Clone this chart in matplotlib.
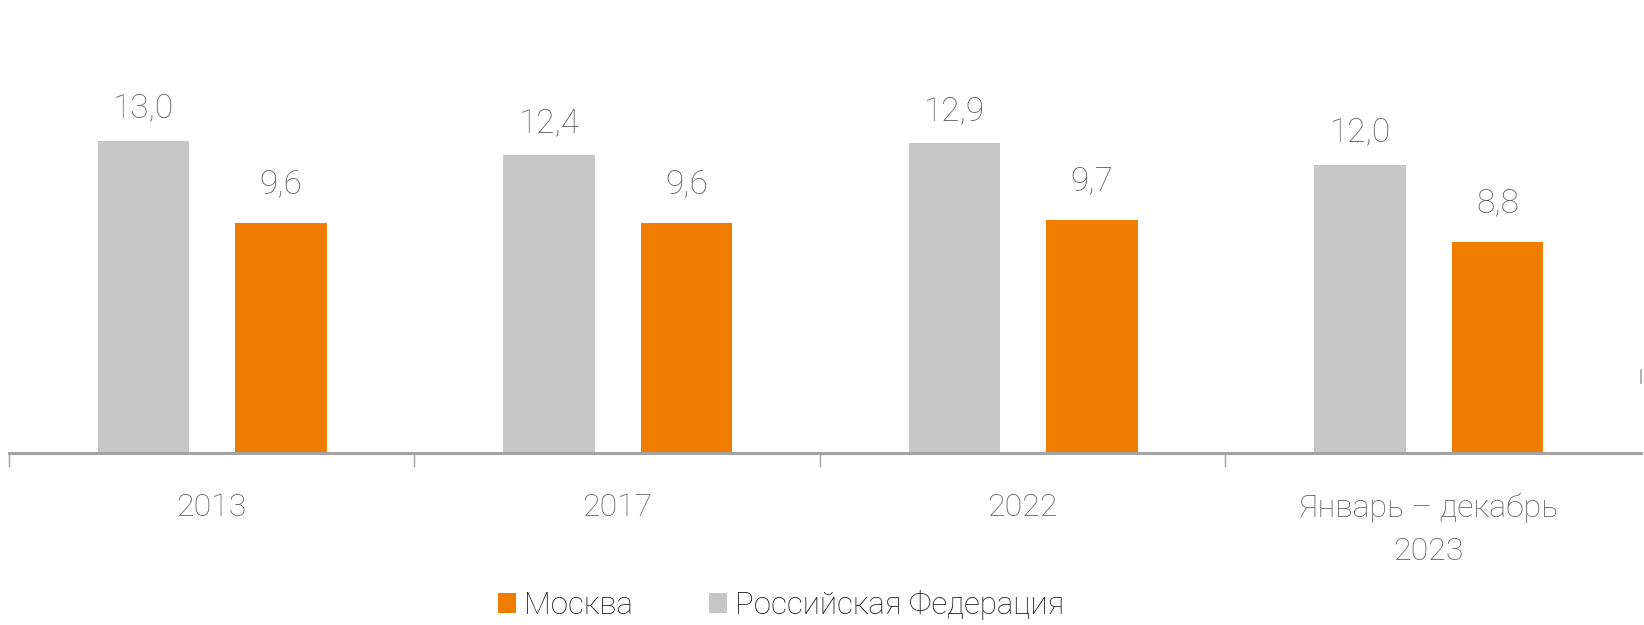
import matplotlib
matplotlib.use("Agg")
import matplotlib.pyplot as plt
from matplotlib.patches import Patch
import numpy as np

categories = ["2013", "2017", "2022", "Январь – декабрь\n2023"]
russia = [13.0, 12.4, 12.9, 12.0]
moscow = [9.6, 9.6, 9.7, 8.8]
value_labels_russia = ["13,0", "12,4", "12,9", "12,0"]
value_labels_moscow = ["9,6", "9,6", "9,7", "8,8"]
series_names = ["Москва", "Российская Федерация"]

GRAY = "#c6c6c6"
ORANGE = "#f07d00"
AXIS = "#a3a3a3"
LABEL = "#606060"

plt.rcParams["font.family"] = ["Roboto", "DejaVu Sans"]
plt.rcParams["font.weight"] = "light"

W, H = 1644, 625
fig = plt.figure(figsize=(W / 100, H / 100), dpi=100)
ax = fig.add_axes([9 / W, 172 / H, (1641 - 9) / W, (453 - 21) / H])

x = np.arange(len(categories))
bw = 0.225
off_r, off_m = -0.168, 0.171
ax.bar(x + off_r, russia, width=bw, color=GRAY, zorder=1)
ax.bar(x + off_m, moscow, width=bw, color=ORANGE, zorder=1)

for xi, v, t in zip(x, russia, value_labels_russia):
    ax.annotate(t, (xi + off_r, v), xytext=(0, 17), textcoords="offset points",
                ha="center", va="baseline", fontsize=24, color=LABEL, fontweight="light")
for xi, v, t in zip(x, moscow, value_labels_moscow):
    ax.annotate(t, (xi + off_m, v), xytext=(0, 21.5), textcoords="offset points",
                ha="center", va="baseline", fontsize=24, color=LABEL, fontweight="light")

ax.set_xlim(-0.5, 3.525)
ax.set_ylim(0, 18)

for s in ["top", "left"]:
    ax.spines[s].set_visible(False)
ax.spines["bottom"].set_color(AXIS)
ax.spines["bottom"].set_linewidth(2.2)
ax.spines["bottom"].set_zorder(3)
ax.spines["right"].set_color(AXIS)
ax.spines["right"].set_linewidth(1.2)
ax.spines["right"].set_bounds(2.92, 3.46)

ax.set_yticks([])
ax.set_xticks([-0.5, 0.5, 1.5, 2.5])
ax.set_xticklabels([])
ax.tick_params(axis="x", which="major", length=10, width=1, color=AXIS, direction="out")
ax.set_xticks(x, minor=True)
ax.set_xticklabels(categories, minor=True, fontsize=23, color=LABEL,
                   linespacing=1.6, fontweight="light")
ax.tick_params(axis="x", which="minor", length=0, pad=28.5)

handles = [Patch(facecolor=ORANGE, edgecolor="none"), Patch(facecolor=GRAY, edgecolor="none")]
leg = fig.legend(handles, series_names, loc="center", bbox_to_anchor=(781 / W, 20 / H),
                 ncol=2, frameon=False, fontsize=22.5, handlelength=0.58, handleheight=0.58,
                 handletextpad=0.26, columnspacing=2.43, borderpad=0, borderaxespad=0)
for t in leg.get_texts():
    t.set_color("#1a1a1a")
    t.set_fontweight("light")

fig.savefig("out.png", dpi=100, facecolor="white")
